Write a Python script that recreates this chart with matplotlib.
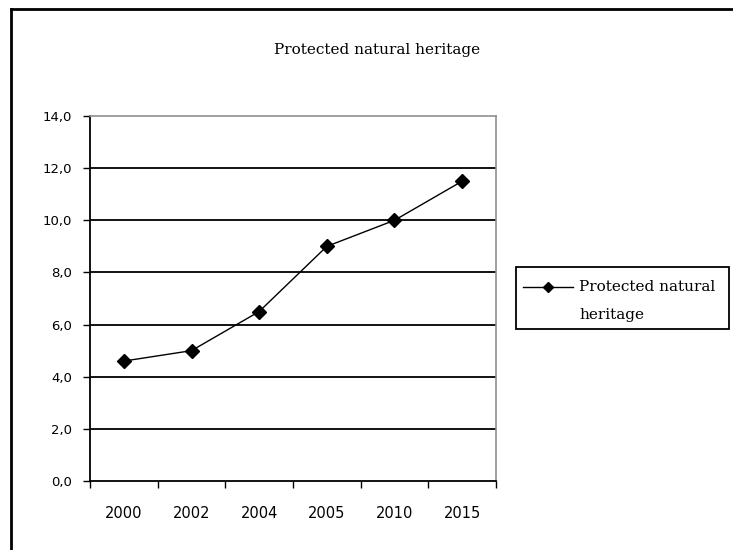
import matplotlib
matplotlib.use("Agg")
import matplotlib.pyplot as plt
from matplotlib.lines import Line2D
from matplotlib.patches import Rectangle

years = ["2000", "2002", "2004", "2005", "2010", "2015"]
heritage = [4.6, 5.0, 6.5, 9.0, 10.0, 11.5]
y_ticks = [0, 2, 4, 6, 8, 10, 12, 14]
series_lines = ["Protected natural", "heritage"]
title = "Protected natural heritage"

SERIF = "DejaVu Serif"
W, H = 733, 550


def fx(px):
    return px / W


def fy(py):
    # pixel row measured from the top -> figure fraction
    return 1 - py / H


fig = plt.figure(figsize=(7.33, 5.5), dpi=100)
ax = fig.add_axes([fx(90), 69 / H, 406 / W, 365 / H])

x = list(range(len(years)))
ax.plot(x, heritage, color="black", lw=1, marker="D", ms=7,
        mfc="black", mec="black", zorder=3)

ax.set_xlim(-0.5, len(years) - 0.5)
ax.set_ylim(0, 14)

# horizontal gridlines (black, excel style)
for v in y_ticks[1:-1]:
    ax.axhline(v, color="black", lw=1.3, zorder=1)

ax.set_yticks(y_ticks)
ax.set_yticklabels([f"{v:.1f}".replace(".", ",") for v in y_ticks],
                   fontfamily="DejaVu Sans", fontsize=9.5)
ax.tick_params(axis="y", direction="out", length=5, width=1, pad=8)

ax.set_xticks(x)
ax.set_xticklabels(years, fontfamily="DejaVu Sans", fontsize=10.5)
ax.set_xticks([i - 0.5 for i in range(len(years) + 1)], minor=True)
ax.tick_params(axis="x", which="major", length=0, pad=18)
ax.tick_params(axis="x", which="minor", direction="out", length=5, width=1)

for side in ("left", "bottom"):
    ax.spines[side].set_color("black")
    ax.spines[side].set_linewidth(1.3)
for side in ("top", "right"):
    ax.spines[side].set_color("#909090")
    ax.spines[side].set_linewidth(1.2)

fig.text(fx(377), fy(50), title, ha="center", va="center",
         fontfamily=SERIF, fontsize=11)

# legend box drawn by hand so the padding can be uneven
fig.add_artist(Rectangle((fx(516), fy(329)), fx(729) - fx(516), fy(267) - fy(329),
                         transform=fig.transFigure, fill=False,
                         edgecolor="black", lw=1.3))
fig.add_artist(Line2D([fx(523), fx(573)], [fy(287), fy(287)], color="black", lw=1,
                      transform=fig.transFigure))
fig.add_artist(Line2D([fx(548)], [fy(287)], color="black", marker="D", ms=5,
                      transform=fig.transFigure))
fig.text(fx(579), fy(287), series_lines[0], ha="left", va="center",
         fontfamily=SERIF, fontsize=11)
fig.text(fx(579), fy(315), series_lines[1], ha="left", va="center",
         fontfamily=SERIF, fontsize=11)

# chart frame (only left and top edges fall inside the image)
fig.add_artist(Line2D([fx(11), fx(11)], [0, fy(9)],
                      color="black", lw=2, transform=fig.transFigure))
fig.add_artist(Line2D([fx(11), 1], [fy(9), fy(9)],
                      color="black", lw=2, transform=fig.transFigure))

fig.savefig("out.png", dpi=100)
